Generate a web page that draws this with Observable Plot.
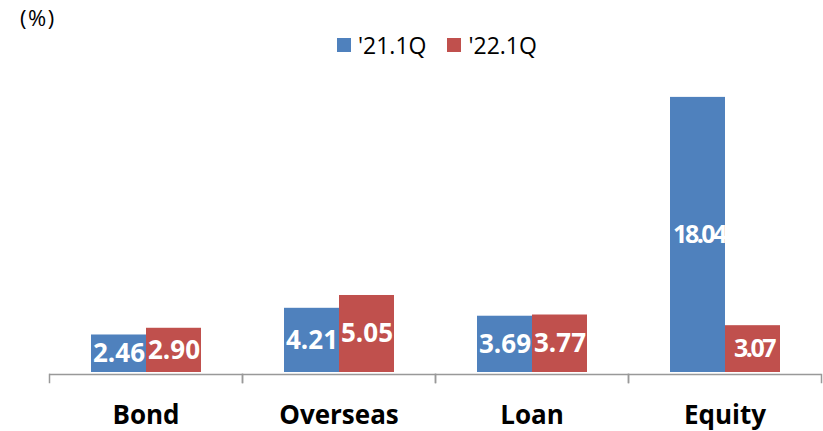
<!DOCTYPE html>
<html>
<head>
<meta charset="utf-8">
<script src="https://cdn.jsdelivr.net/npm/d3@7"></script>
<script src="https://cdn.jsdelivr.net/npm/@observablehq/plot@0.6"></script>
<style>
  html, body { margin: 0; padding: 0; background: #fff; }
  #wrap { position: relative; width: 823px; height: 431px; overflow: hidden; }
  #unit { position: absolute; left: 20px; top: 2px; font: 400 22px/30px "Open Sans", sans-serif; letter-spacing: 1.5px; color: #000; }
  #legend { position: absolute; left: 337px; top: 30px; height: 30px; font: 400 23px/30px "Open Sans", sans-serif; color: #000; display: flex; align-items: center; }
  #legend .sw { display: inline-block; width: 14px; height: 14px; margin-right: 7px; }
  #legend .item { display: flex; align-items: center; margin-right: 21px; }
  g[font-family*="Roboto"] text { letter-spacing: -2.5px; }
</style>
</head>
<body>
<div id="wrap">
  <div id="chart"></div>
  <div id="unit">(%)</div>
  <div id="legend"></div>
</div>
<script>
const categories = ["Bond", "Overseas", "Loan", "Equity"];
const seriesNames = ["'21.1Q", "'22.1Q"];
const values21 = [2.46, 4.21, 3.69, 18.04];
const values22 = [2.90, 5.05, 3.77, 3.07];
const colors = ["#4F81BD", "#C0504D"];

const rows = [];
categories.forEach((c, i) => {
  rows.push({cat: c, series: seriesNames[0], value: values21[i]});
  rows.push({cat: c, series: seriesNames[1], value: values22[i]});
});

const chart = Plot.plot({
  width: 823,
  height: 431,
  marginLeft: 48,
  marginRight: 1,
  marginTop: 67,
  marginBottom: 59,
  facet: {data: rows, x: "cat"},
  fx: {domain: categories, paddingInner: 0, paddingOuter: 0, label: null, tickSize: 0, tickPadding: 33},
  x: {domain: seriesNames, paddingInner: 0, paddingOuter: 0.75, axis: null},
  y: {domain: [0, 20], axis: null},
  color: {domain: seriesNames, range: colors},
  style: {fontFamily: "'Open Sans', sans-serif", fontSize: "26px", fontWeight: "bold", color: "#000", background: "#fff"},
  marks: [
    Plot.barY(rows, {x: "series", y: "value", fill: "series"}),
    Plot.ruleY([0], {dy: 2, stroke: "#999", strokeWidth: 1.5}),
    Plot.frame({anchor: "left", stroke: "#999", strokeWidth: 1.5, insetTop: 307, insetBottom: -10}),
    Plot.frame({anchor: "right", stroke: "#999", strokeWidth: 1.5, insetTop: 307, insetBottom: -10}),
    Plot.text(rows, Plot.filter(d => d.cat !== "Equity", {
      x: "series", y: d => d.value / 2, text: d => d.value.toFixed(2),
      fill: "white", fontSize: 26, fontWeight: "bold", fontFamily: "'Open Sans', sans-serif"
    })),
    Plot.text(rows, Plot.filter(d => d.cat === "Equity", {
      x: "series", y: d => d.value / 2, text: d => d.value.toFixed(2),
      fill: "white", fontSize: 25, fontWeight: "bold", fontFamily: "'Open Sans', Roboto, sans-serif", dx: 1
    }))
  ]
});
document.getElementById("chart").appendChild(chart);

const legend = document.getElementById("legend");
seriesNames.forEach((s, i) => {
  const item = document.createElement("span");
  item.className = "item";
  const sw = document.createElement("span");
  sw.className = "sw";
  sw.style.background = colors[i];
  item.appendChild(sw);
  item.appendChild(document.createTextNode(s));
  legend.appendChild(item);
});
</script>
</body>
</html>
